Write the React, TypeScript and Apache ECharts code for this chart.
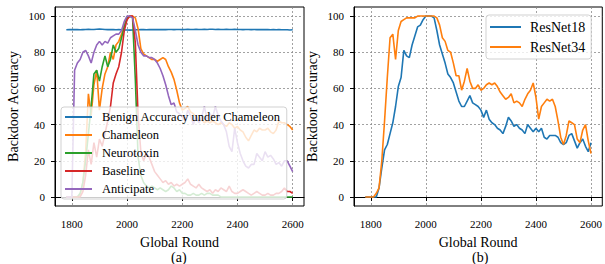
import React, { useEffect, useRef } from "react";
import * as echarts from "echarts";

const rounds = [
  1780, 1790, 1800, 1810, 1820, 1830, 1840, 1850, 1860, 1870,
  1880, 1890, 1900, 1910, 1920, 1930, 1940, 1950, 1960, 1970,
  1980, 1990, 2000, 2010, 2020, 2030, 2040, 2050, 2060, 2070,
  2080, 2090, 2100, 2110, 2120, 2130, 2140, 2150, 2160, 2170,
  2180, 2190, 2200, 2210, 2220, 2230, 2240, 2250, 2260, 2270,
  2280, 2290, 2300, 2310, 2320, 2330, 2340, 2350, 2360, 2370,
  2380, 2390, 2400, 2410, 2420, 2430, 2440, 2450, 2460, 2470,
  2480, 2490, 2500, 2510, 2520, 2530, 2540, 2550, 2560, 2570,
  2580, 2590, 2600,
];

const benign = [
  92.4, 92.5, 92.5, 92.6, 92.5, 92.4, 92.5, 92.6, 92.7, 92.6,
  92.6, 92.7, 92.8, 92.7, 92.6, 92.5, 92.6, 92.5, 92.4, 92.5,
  92.4, 92.3, 92.3, 92.2, 92.3, 92.4, 92.4, 92.5, 92.5, 92.4,
  92.5, 92.5, 92.6, 92.5, 92.5, 92.6, 92.5, 92.6, 92.6, 92.5,
  92.6, 92.6, 92.5, 92.6, 92.7, 92.6, 92.6, 92.7, 92.6, 92.6,
  92.7, 92.6, 92.7, 92.7, 92.6, 92.7, 92.6, 92.6, 92.7, 92.6,
  92.6, 92.7, 92.6, 92.6, 92.5, 92.6, 92.6, 92.5, 92.6, 92.5,
  92.5, 92.6, 92.5, 92.5, 92.4, 92.5, 92.4, 92.5, 92.4, 92.4,
  92.4, 92.3, 92.4,
];

const chameleon = [
  0, 0, 0, 0, 0, 1, 8, 25, 57, 45,
  62, 70, 48, 60, 68, 72, 80, 76, 84, 86,
  90, 95, 99, 100, 100, 99, 93, 82, 79, 78,
  77, 76, 76, 75, 76, 77, 76, 72, 69, 65,
  59, 52, 48, 49, 50, 47, 46, 44, 42, 43,
  41, 42, 41, 42, 41, 40, 41, 40, 39, 41,
  40, 38, 39, 37, 36, 33, 31, 34, 37, 36,
  38, 37, 37, 38, 36, 35, 37, 42, 41, 41,
  40, 39, 37,
];

const neurotoxin = [
  0, 0, 0, 0, 0, 2, 8, 20, 35, 50,
  68, 70, 64, 72, 78, 72, 76, 84, 80, 82,
  88, 94, 99, 100, 99, 65, 22, 12, 8, 6,
  5, 6, 5, 4, 5, 4, 3, 4, 6, 5,
  3, 4, 2, 2, 1, 1, 2, 1, 1, 2,
  1, 2, 2, 1, 1, 1, 0, 0, 0, 0,
  0, 0, 0, 0, 0, 0, 0, 0, 0, 0,
  0, 0, 0, 0, 0, 0, 0, 0, 0, 0,
  0, 0, 0,
];

const baseline = [
  0, 0, 0, 0, 0, 0, 3, 12, 26, 18,
  30, 22, 32, 28, 35, 42, 50, 63, 68, 72,
  80, 92, 98, 100, 100, 85, 45, 25, 20, 24,
  22, 18, 14, 12, 10, 8, 9, 7, 8, 6,
  7, 6, 7, 8, 10, 7, 6, 5, 7, 5,
  4, 3, 4, 2, 4, 3, 5, 4, 3, 6,
  3, 2, 2, 3, 4, 3, 2, 1, 2, 3,
  2, 1, 1, 2, 1, 1, 2, 2, 3, 5,
  3, 3, 2,
];

const anticipate = [
  0, 0, 0, 70, 74, 76, 80, 81, 78, 74,
  80, 84, 86, 84, 86, 85, 88, 89, 90, 90,
  92, 97, 100, 100, 99, 92, 84, 80, 78, 78,
  77, 77, 76, 74, 71, 67, 62, 56, 51, 52,
  47, 46, 44, 42, 48, 45, 40, 45, 41, 44,
  50, 43, 46, 44, 50, 45, 42, 40, 36, 28,
  25, 38, 30, 24, 20, 17, 16, 18, 18, 24,
  22, 20, 25, 22, 23, 21, 18, 19, 17, 20,
  20, 17, 14,
];

const resnet18 = [
  0, 0, 0, 0, 0, 5, 16, 26, 29, 35,
  41, 50, 61, 66, 81, 78, 77, 84, 89, 94,
  95, 98, 100, 100, 100, 99, 92, 84, 79, 74,
  68, 66, 63, 58, 53, 50, 50, 53, 56, 52,
  51, 50, 48, 44, 48, 43, 41, 40, 38, 37,
  35, 39, 44, 42, 39, 40, 38, 37, 35, 40,
  38, 36, 38, 36, 38, 33, 32, 34, 34, 34,
  33, 30, 29, 30, 34, 35, 31, 27, 30, 32,
  28, 25, 30,
];

const resnet34 = [
  0, 0, 0, 0, 2, 5, 20, 42, 66, 88,
  90, 76, 92, 97, 98, 99, 99, 99, 99, 100,
  100, 100, 100, 100, 100, 100, 99, 95, 88, 86,
  81, 80, 74, 67, 67, 59, 64, 71, 64, 60,
  60, 62, 59, 60, 62, 63, 62, 63, 61, 58,
  56, 54, 55, 57, 52, 53, 52, 50, 54, 57,
  59, 63, 55, 43, 50, 52, 54, 53, 54, 50,
  42, 33, 29, 34, 42, 41, 40, 32, 30, 37,
  40, 31, 24,
];

const xTicks = [1800, 2000, 2200, 2400, 2600];
const yTicks = [0, 20, 40, 60, 80, 100];

const FONT = "Liberation Serif";
const C = {
  blue: "#1f77b4",
  orange: "#ff7f0e",
  green: "#2ca02c",
  red: "#d62728",
  purple: "#9467bd",
};

function pairs(vals: number[]) {
  return rounds.map((r, i) => [r, vals[i]]);
}

function makeX(gridIndex: number) {
  return {
    type: "value",
    gridIndex,
    min: 1739,
    max: 2641,
    name: "Global Round",
    nameLocation: "middle",
    nameGap: 29,
    nameTextStyle: { fontFamily: FONT, fontSize: 14, color: "#000" },
    axisLine: { show: true, lineStyle: { color: "#000", width: 1 } },
    axisTick: { show: true, length: 4, lineStyle: { color: "#000" }, customValues: xTicks },
    axisLabel: {
      fontFamily: FONT,
      fontSize: 11,
      color: "#000",
      margin: 12,
      customValues: xTicks,
      formatter: (v: number) => String(v),
    },
    splitLine: { show: true, lineStyle: { color: "#8a8a8a", type: [2, 2], width: 0.8 } },
  };
}

function makeY(gridIndex: number) {
  return {
    type: "value",
    gridIndex,
    min: -5,
    max: 105,
    name: "Backdoor Accuracy",
    nameLocation: "middle",
    nameGap: 35,
    nameTextStyle: { fontFamily: FONT, fontSize: 14, color: "#000" },
    axisLine: { show: true, lineStyle: { color: "#000", width: 1 } },
    axisTick: { show: true, length: 4, lineStyle: { color: "#000" }, customValues: yTicks },
    axisLabel: {
      fontFamily: FONT,
      fontSize: 11,
      color: "#000",
      margin: 10,
      customValues: yTicks,
      formatter: (v: number) => String(v),
    },
    splitLine: { show: true, lineStyle: { color: "#8a8a8a", type: [2, 2], width: 0.8 } },
  };
}

function line(name: string, vals: number[], color: string, idx: number) {
  return {
    type: "line",
    name,
    xAxisIndex: idx,
    yAxisIndex: idx,
    data: pairs(vals),
    showSymbol: false,
    symbol: "none",
    color,
    itemStyle: { color },
    lineStyle: { color, width: 1.6 },
  };
}

export default function App() {
  const ref = useRef<HTMLDivElement>(null);
  useEffect(() => {
    if (!ref.current) return;
    const chart = echarts.init(ref.current, undefined, { renderer: "svg" });
    const gridBase = { top: 7, height: 199, width: 249, show: true, borderColor: "#000", borderWidth: 1, backgroundColor: "transparent" };
    chart.setOption({
      animation: false,
      backgroundColor: "#fff",
      textStyle: { fontFamily: FONT },
      grid: [
        { ...gridBase, left: 55 },
        { ...gridBase, left: 354 },
      ],
      xAxis: [makeX(0), makeX(1)],
      yAxis: [makeY(0), makeY(1)],
      legend: [
        {
          orient: "vertical",
          left: 61,
          top: 107,
          icon: "rect",
          itemWidth: 27,
          itemHeight: 2,
          itemGap: 4,
          padding: [3, 6, 3, 4],
          selectedMode: false,
          backgroundColor: "rgba(255,255,255,0.8)",
          borderColor: "rgba(204,204,204,0.9)",
          borderWidth: 1,
          borderRadius: 3,
          textStyle: { fontFamily: FONT, fontSize: 12.5, color: "#000", lineHeight: 14, padding: [0, 0, 0, 5] },
          data: ["Benign Accuracy under Chameleon", "Chameleon", "Neurotoxin", "Baseline", "Anticipate"],
        },
        {
          orient: "vertical",
          left: 486,
          top: 15,
          icon: "rect",
          itemWidth: 31,
          itemHeight: 2,
          itemGap: 4,
          padding: [4, 6, 4, 4],
          selectedMode: false,
          backgroundColor: "rgba(255,255,255,0.8)",
          borderColor: "rgba(204,204,204,0.9)",
          borderWidth: 1,
          borderRadius: 3,
          textStyle: { fontFamily: FONT, fontSize: 14, color: "#000", lineHeight: 16, padding: [0, 0, 0, 4] },
          data: ["ResNet18", "ResNet34"],
        },
      ],
      graphic: [
        { type: "text", left: 171, top: 250, style: { text: "(a)", font: `14px "${FONT}"`, fill: "#000" } },
        { type: "text", left: 472, top: 250, style: { text: "(b)", font: `14px "${FONT}"`, fill: "#000" } },
      ],
      series: [
        line("Benign Accuracy under Chameleon", benign, C.blue, 0),
        line("Chameleon", chameleon, C.orange, 0),
        line("Neurotoxin", neurotoxin, C.green, 0),
        line("Baseline", baseline, C.red, 0),
        line("Anticipate", anticipate, C.purple, 0),
        line("ResNet18", resnet18, C.blue, 1),
        line("ResNet34", resnet34, C.orange, 1),
      ],
    });
    return () => chart.dispose();
  }, []);
  return <div ref={ref} style={{ position: "absolute", left: 0, top: 0, width: 605, height: 264 }} />;
}
